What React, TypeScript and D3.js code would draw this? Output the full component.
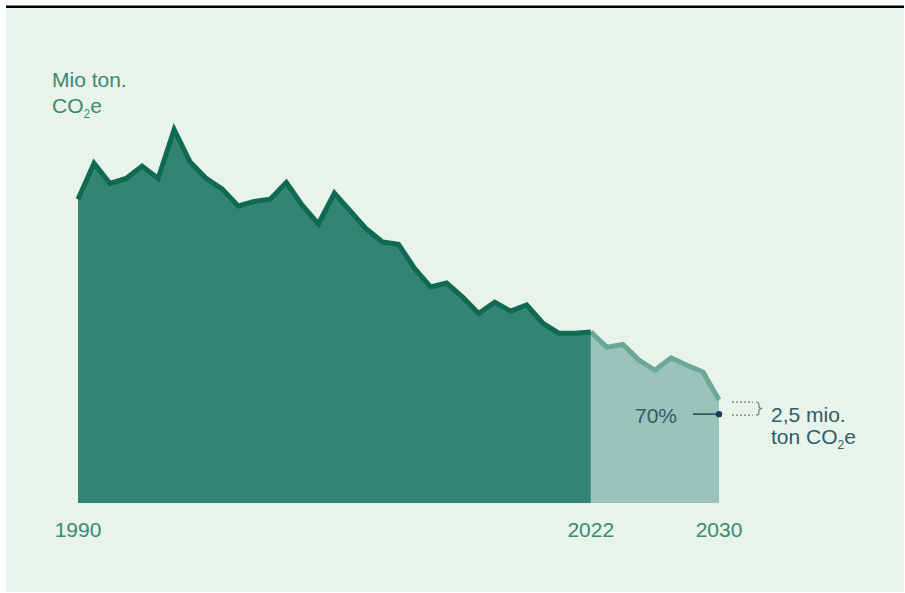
import React from 'react';
import * as d3 from 'd3';

// emissions in mio. ton CO2e
const histYears = [
  1990, 1991, 1992, 1993, 1994, 1995, 1996, 1997, 1998, 1999, 2000,
  2001, 2002, 2003, 2004, 2005, 2006, 2007, 2008, 2009, 2010, 2011,
  2012, 2013, 2014, 2015, 2016, 2017, 2018, 2019, 2020, 2021, 2022,
];
const histValues = [
  54.0, 60.4, 56.8, 57.7, 59.9, 57.7, 66.4, 60.6, 57.7, 55.8, 52.8,
  53.6, 54.0, 57.0, 52.9, 49.6, 55.1, 51.9, 48.7, 46.4, 46.0, 41.7,
  38.4, 39.1, 36.6, 33.7, 35.7, 34.1, 35.2, 32.0, 30.2, 30.2, 30.4,
];
const projYears = [2022, 2023, 2024, 2025, 2026, 2027, 2028, 2029, 2030];
const projValues = [30.4, 27.7, 28.2, 25.4, 23.6, 25.8, 24.5, 23.3, 18.3];
const targetYear = 2030;
const targetValue = 15.8;
const tickYears = [1990, 2022, 2030];

const W = 905;
const H = 593;
const FONT = '"Liberation Sans", Arial, sans-serif';

const App: React.FC = () => {
  const x = d3.scaleLinear().domain([1990, 2030]).range([78, 719]);
  const y = d3.scaleLinear().domain([0, 80]).range([503, 53]);

  const hist = histYears.map((yr, i) => [yr, histValues[i]] as [number, number]);
  const proj = projYears.map((yr, i) => [yr, projValues[i]] as [number, number]);

  const area = d3.area<[number, number]>()
    .x(d => x(d[0]))
    .y0(y(0))
    .y1(d => y(d[1]));
  const line = d3.line<[number, number]>()
    .x(d => x(d[0]))
    .y(d => y(d[1]));

  const endX = x(targetYear);
  const endY = y(projValues[projValues.length - 1]);
  const tY = y(targetValue);
  const midY = (endY + 2 + tY + 1) / 2;

  return (
    <div style={{ position: 'absolute', left: 0, top: 0 }}>
      <svg width={W} height={H} style={{ display: 'block' }}>
        <rect x={6} y={8} width={898} height={584} fill="#e8f3e9" />
        <rect x={6} y={5.5} width={898} height={2.5} fill="#000" />

        {/* title */}
        <text x={52} y={87} fontFamily={FONT} fontSize={21} fill="#3a8a72">Mio ton.</text>
        <text x={52} y={113} fontFamily={FONT} fontSize={21} fill="#3a8a72">
          CO<tspan fontSize={12} dy={5}>2</tspan><tspan dy={-5}>e</tspan>
        </text>

        {/* projection */}
        <path d={area(proj) || ''} fill="#9cc3b9" />
        <path d={line(proj) || ''} fill="none" stroke="#6aa898" strokeWidth={5} strokeLinejoin="round" />

        {/* history */}
        <path d={area(hist) || ''} fill="#338474" />
        <path d={line(hist) || ''} fill="none" stroke="#0e6a50" strokeWidth={5} strokeLinejoin="miter" />

        {/* 70% target */}
        <line x1={693} x2={endX} y1={tY} y2={tY} stroke="#1d4560" strokeWidth={1.5} />
        <circle cx={endX} cy={tY} r={3.2} fill="#173d5a" />
        <text x={677} y={423} textAnchor="end" fontFamily={FONT} fontSize={21} fill="#2f5d6c">70%</text>

        {/* gap to target */}
        <line x1={732} x2={753} y1={endY + 2} y2={endY + 2} stroke="#5f808d" strokeWidth={1.2} strokeDasharray="2,2" />
        <line x1={732} x2={753} y1={tY + 1} y2={tY + 1} stroke="#5f808d" strokeWidth={1.2} strokeDasharray="2,2" />
        <path
          d={`M756,${endY + 2} Q759,${endY + 2} 759,${endY + 5} L759,${midY - 1} L761.5,${midY} L759,${midY + 1} L759,${tY - 2} Q759,${tY + 1} 756,${tY + 1}`}
          fill="none" stroke="#5f808d" strokeWidth={1.1}
        />
        <text x={771} y={422} fontFamily={FONT} fontSize={21} fill="#2f5d6c">2,5 mio.</text>
        <text x={771} y={444} fontFamily={FONT} fontSize={21} fill="#2f5d6c">
          ton CO<tspan fontSize={12} dy={5}>2</tspan><tspan dy={-5}>e</tspan>
        </text>

        {/* x labels */}
        {tickYears.map(t => (
          <text key={t} x={x(t)} y={537} textAnchor="middle" fontFamily={FONT} fontSize={21} fill="#3a8a72">
            {t}
          </text>
        ))}
      </svg>
    </div>
  );
};

export default App;
